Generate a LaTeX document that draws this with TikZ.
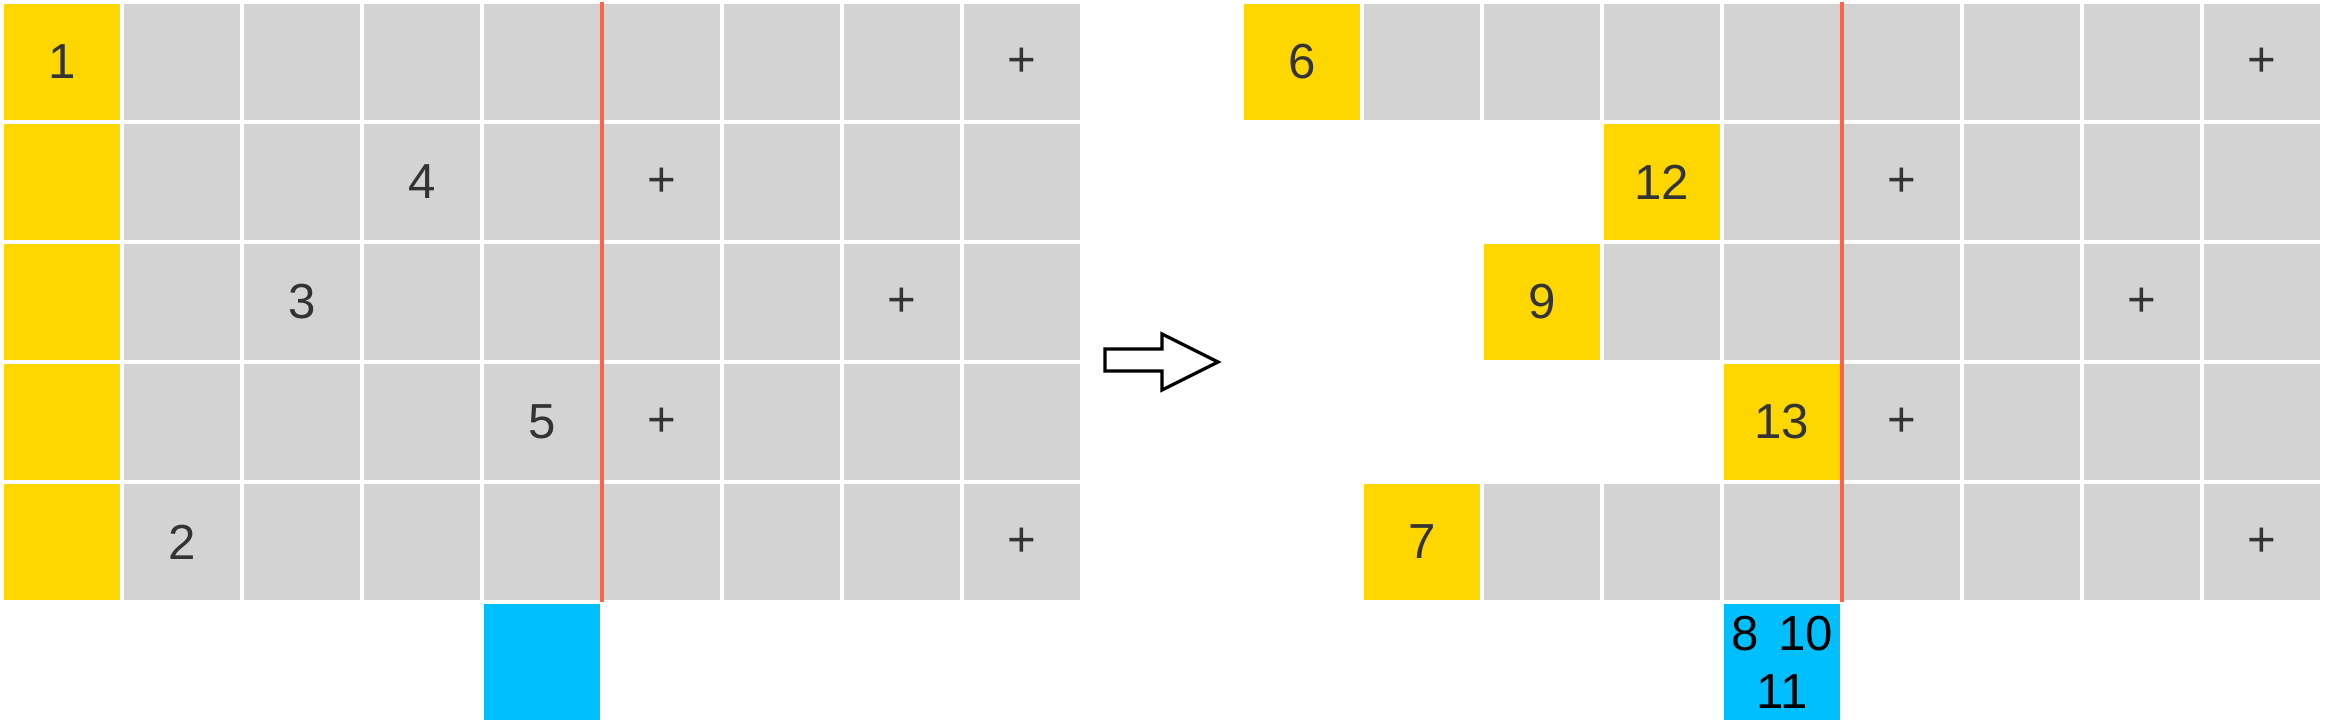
\documentclass[tikz,border=0pt]{standalone}
\usepackage{fontspec}
\setmainfont{Liberation Sans}
\usepackage{tikz}
\usetikzlibrary{matrix,positioning}
\definecolor{cellgray}{HTML}{D3D3D3}
\definecolor{cellgold}{HTML}{FFD700}
\definecolor{cellblue}{HTML}{00BFFF}
\definecolor{cutred}{HTML}{FF6347}
\definecolor{numgray}{HTML}{333333}
\tikzset{
mymat/.style={
  matrix of nodes,
  nodes in empty cells,
  inner sep=0pt,
  outer sep=0pt,
  column sep=0.04cm,
  row sep=0.04cm,
  nodes={rectangle,fill=cellgray,minimum size=1.16cm,
    inner sep=0pt,outer sep=0pt,anchor=center,text=numgray,
    font=\fontsize{14}{16.5}\selectfont}
  }
}
\tikzset{
  yel/.style={fill=cellgold},
  hole/.style={fill=none},
  bucket/.style={rectangle,fill=cellblue,minimum size=1.16cm,
    inner sep=0pt,outer sep=0pt,align=center,
    font=\fontsize{14}{16.5}\selectfont},
  cutline/.style={draw=cutred,line width=0.04cm}
}

\begin{document}
\begin{tikzpicture}
\useasboundingbox (0,0) rectangle (23.28,-7.28);

\matrix[mymat,anchor=north west]
at (0.04,-0.04)
(mat1)
{
|[yel]| 1 &   &   &   &   &   &   &   & + \\
|[yel]|   &   &   & 4 &   & + &   &   &   \\
|[yel]|   &   & 3 &   &   &   &   & + &   \\
|[yel]|   &   &   &   & 5 & + &   &   &   \\
|[yel]|   & 2 &   &   &   &   &   &   & + \\ };
\node[bucket,below=0.04cm of mat1-5-5] (buck1) {};

\matrix[mymat,anchor=north west]
at (12.44,-0.04)
(mat2)
{
|[yel]| 6 &   &   &   &   &   &   &   & + \\
|[hole]| & |[hole]| & |[hole]| & |[yel]| 12 &   & + &   &   &   \\
|[hole]| & |[hole]| & |[yel]| 9 &   &   &   &   & + &   \\
|[hole]| & |[hole]| & |[hole]| & |[hole]| & |[yel]| 13 & + &   &   &   \\
|[hole]| & |[yel]| 7 &   &   &   &   &   &   & + \\ };
\node[bucket,below=0.04cm of mat2-5-5] (buck2) {8\hspace{0.4em}10\\11};

\begin{scope}
\coordinate(ctop) at([xshift=0.02cm,yshift=0.02cm]mat1-1-5.north east);
\coordinate(cbot) at([xshift=0.02cm,yshift=-0.02cm]mat1-5-5.south east);
\draw[cutline] (ctop) -- (cbot);
\end{scope}

\begin{scope}
\coordinate(ctop) at([xshift=0.02cm,yshift=0.02cm]mat2-1-5.north east);
\coordinate(cbot) at([xshift=0.02cm,yshift=-0.02cm]mat2-5-5.south east);
\draw[cutline] (ctop) -- (cbot);
\end{scope}

\draw[line width=0.033cm] (11.05,-3.49) -- (11.62,-3.49) -- (11.62,-3.34)
  -- (12.18,-3.62) -- (11.62,-3.90) -- (11.62,-3.71) -- (11.05,-3.71) -- cycle;

\end{tikzpicture}
\end{document}
